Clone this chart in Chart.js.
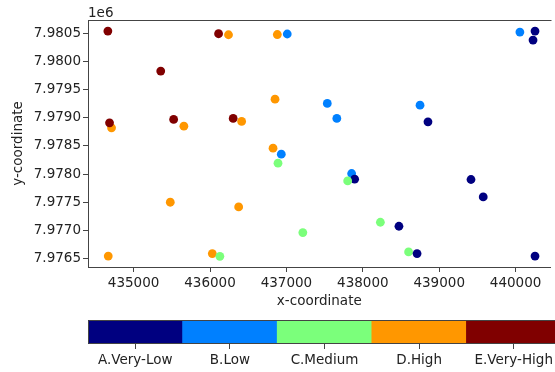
<!DOCTYPE html>
<html>
<head>
<meta charset="utf-8">
<script src="https://cdn.jsdelivr.net/npm/chart.js@4.4.0/dist/chart.umd.min.js"></script>
<style>
    body { margin: 0; width: 555px; height: 372px; overflow: hidden; background: #fff; }
    .scatter-box { position: absolute; left: 0; top: 0; width: 555px; height: 310px; }
    .colorbar-box { position: absolute; left: 0; top: 310px; width: 570px; height: 62px; }
</style>
</head>
<body>
<div class="scatter-box"><canvas class="scatter-chart"></canvas></div>
<div class="colorbar-box"><canvas class="colorbar-chart"></canvas></div>
<script>
// class names shown on the colorbar
const classes = ['A.Very-Low', 'B.Low', 'C.Medium', 'D.High', 'E.Very-High']

// point coordinates, in drawing order, and the class index of each point
const xCoord = [
    436242, 436881, 436851, 434711, 435658, 436414, 436825, 435480, 436375, 434668, 436030,
    437011, 440056, 437535, 437660, 438749, 436933, 437854,
    434663, 436112, 435355, 434685, 435524, 436303,
    438599,
    440254, 440228, 438853, 437893, 439416, 439576, 438473, 438710, 440254,
    436890, 437802, 437215, 438230, 436129
]
const yCoord = [
    7980475, 7980479, 7979331, 7978821, 7978851, 7978934, 7978459, 7977499, 7977415, 7976543, 7976586,
    7980488, 7980523, 7979255, 7978988, 7979224, 7978353, 7978009,
    7980541, 7980493, 7979829, 7978910, 7978970, 7978988,
    7976615,
    7980541, 7980381, 7978927, 7977908, 7977903, 7977593, 7977072, 7976586, 7976543,
    7978193, 7977878, 7976960, 7977143, 7976538
]
const classIndex = [
    3, 3, 3, 3, 3, 3, 3, 3, 3, 3, 3,
    1, 1, 1, 1, 1, 1, 1,
    4, 4, 4, 4, 4, 4,
    2,
    0, 0, 0, 0, 0, 0, 0, 0, 0,
    2, 2, 2, 2, 2
]

const xTicks = [435000, 436000, 437000, 438000, 439000, 440000]
const yTicks = [7976500, 7977000, 7977500, 7978000, 7978500, 7979000, 7979500, 7980000, 7980500]

// jet colormap, 5 levels
const jetColors = ['#000080', '#0080ff', '#7bff7b', '#ff9700', '#800000']

const textColor = '#222'
const lineColor = '#444'
const font = { family: 'DejaVu Sans', size: 13.5 }

// draws the spines that chart.js does not draw itself, plus the offset text
const framePlugin = {
    id: 'frame',
    afterDraw(chart, args, opts) {
        const { ctx, chartArea } = chart
        ctx.save()
        ctx.strokeStyle = lineColor
        ctx.lineWidth = 1
        const l = Math.round(chartArea.left) + 0.5
        const r = Math.round(chartArea.right) - 0.5
        const t = Math.round(chartArea.top) + 0.5
        const b = Math.round(chartArea.bottom) - 0.5
        ctx.beginPath()
        if (opts.box) {
            ctx.rect(l, t, r - l, b - t)
        } else {
            ctx.moveTo(l, t)
            ctx.lineTo(r + 1, t)
        }
        ctx.stroke()
        if (opts.offsetText) {
            ctx.fillStyle = textColor
            ctx.font = font.size + 'px ' + font.family
            ctx.textAlign = 'left'
            ctx.textBaseline = 'alphabetic'
            ctx.fillText(opts.offsetText, chartArea.left, chartArea.top - 3)
        }
        ctx.restore()
    }
}

const points = xCoord.map((x, i) => ({ x: x, y: yCoord[i] }))

let ctx = document.querySelector('.scatter-chart')
new Chart(ctx, {
    type: 'scatter',
    data: {
        datasets: [{
            data: points,
            pointRadius: 4.4,
            pointHoverRadius: 4.4,
            pointBorderWidth: 0,
            pointBackgroundColor: classIndex.map(c => jetColors[c]),
        }]
    },
    options: {
        responsive: true,
        maintainAspectRatio: false,
        animation: false,
        layout: { padding: { top: 20, right: 0, bottom: 0, left: 0 } },
        scales: {
            x: {
                type: 'linear',
                min: 434403,
                max: 440458,
                afterBuildTicks: scale => { scale.ticks = xTicks.map(v => ({ value: v })) },
                afterFit: scale => { scale.height = 43 },
                ticks: { color: textColor, font: font, padding: 3, maxRotation: 0, callback: v => String(v) },
                grid: { drawOnChartArea: false, drawTicks: true, tickLength: 5, color: lineColor },
                border: { display: true, color: lineColor, width: 1 },
                title: { display: true, text: 'x-coordinate', color: textColor, font: font, padding: { top: 0, bottom: 0 } }
            },
            y: {
                type: 'linear',
                min: 7976348,
                max: 7980737,
                afterBuildTicks: scale => { scale.ticks = yTicks.map(v => ({ value: v })) },
                afterFit: scale => { scale.width = 88 },
                ticks: { color: textColor, font: font, padding: 2, callback: v => (v / 1e6).toFixed(4) },
                grid: { drawOnChartArea: false, drawTicks: true, tickLength: 5, color: lineColor },
                border: { display: true, color: lineColor, width: 1 },
                title: { display: true, text: 'y-coordinate', color: textColor, font: font, padding: { top: 10, bottom: 0 } }
            }
        },
        plugins: {
            legend: { display: false },
            tooltip: { enabled: false },
            frame: { box: false, offsetText: '1e6' }
        }
    },
    plugins: [framePlugin]
});

let ctx1 = document.querySelector('.colorbar-chart')
new Chart(ctx1, {
    type: 'bar',
    data: {
        labels: classes,
        datasets: [{
            data: classes.map(() => 1),
            backgroundColor: jetColors,
            borderWidth: 0,
            barPercentage: 1,
            categoryPercentage: 1
        }]
    },
    options: {
        responsive: true,
        maintainAspectRatio: false,
        animation: false,
        layout: { padding: { top: 10, right: 9, bottom: 0, left: 88 } },
        scales: {
            x: {
                afterFit: scale => { scale.height = 28 },
                ticks: { color: textColor, font: font, padding: 3, maxRotation: 0, autoSkip: false },
                grid: { offset: false, drawOnChartArea: false, drawTicks: true, tickLength: 5, color: lineColor },
                border: { display: false }
            },
            y: { display: false, min: 0, max: 1 }
        },
        plugins: {
            legend: { display: false },
            tooltip: { enabled: false },
            frame: { box: true }
        }
    },
    plugins: [framePlugin]
});
</script>
</body>
</html>
